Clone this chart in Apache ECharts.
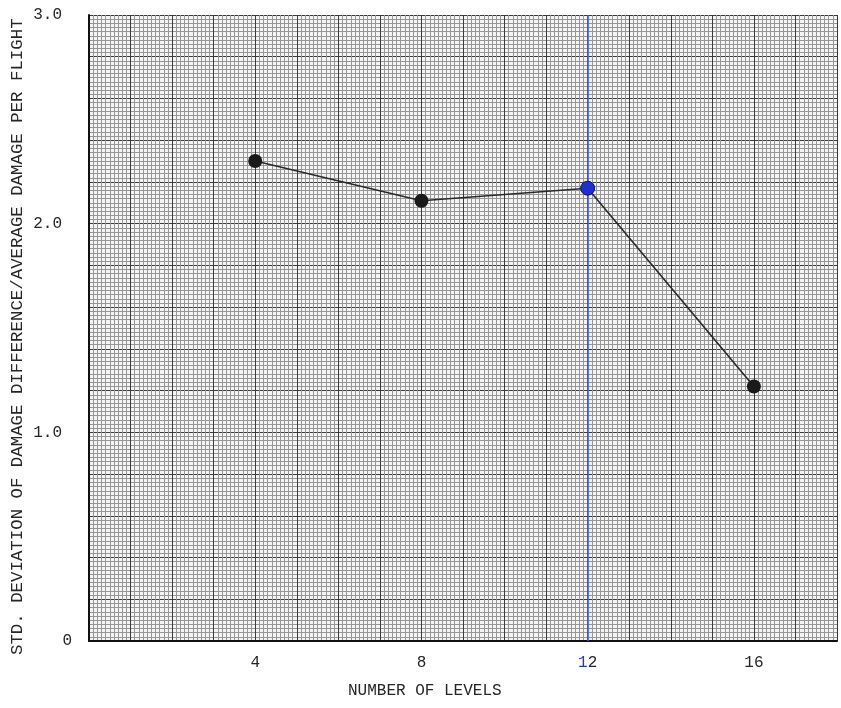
<!DOCTYPE html>
<html>
<head>
<meta charset="utf-8">
<script src="https://cdn.jsdelivr.net/npm/echarts@6/dist/echarts.min.js"></script>
<style>
  html, body { margin: 0; padding: 0; background: #ffffff; }
  #myChart { width: 841px; height: 708px; }
</style>
</head>
<body>
<div id="myChart"></div>
<script>
// number of levels vs. normalised std. deviation
let levels = [4, 8, 12, 16];
let stdDev = [2.30, 2.11, 2.17, 1.22];
let xTickLabels = [4, 8, 12, 16];
let yTickLabels = [0, 1, 2, 3];
let highlightLevel = 12;

let mono = '"Liberation Mono", "DejaVu Sans Mono", monospace';
let ink = '#262626';

let chart = echarts.init(document.getElementById('myChart'));

let points = levels.map(function (x, i) {
  let p = { value: [x, stdDev[i]] };
  if (x === highlightLevel) {
    p.itemStyle = { color: '#1c2fd0', borderColor: '#101860', borderWidth: 1 };
  }
  return p;
});

let options = {
  backgroundColor: '#ffffff',
  animation: false,
  grid: {
    left: 89,
    right: 4,
    top: 15,
    bottom: 67,
    show: true,
    backgroundColor: '#f4f4f4',
    borderWidth: 0
  },
  graphic: [
    {
      type: 'text',
      left: 348,
      top: 683,
      style: { text: 'NUMBER OF LEVELS', font: '16px ' + mono, fill: ink }
    },
    {
      type: 'text',
      x: 26,
      y: 655,
      rotation: Math.PI / 2,
      style: {
        text: 'STD. DEVIATION OF DAMAGE DIFFERENCE/AVERAGE DAMAGE PER FLIGHT',
        font: '17.4px ' + mono,
        fill: ink,
        align: 'left',
        verticalAlign: 'bottom'
      }
    }
  ],
  xAxis: {
    type: 'value',
    min: 0,
    max: 18,
    interval: 1,
    axisLine: { show: true, onZero: false, lineStyle: { color: '#111', width: 2 } },
    axisTick: { show: false },
    axisLabel: {
      margin: 14,
      fontFamily: mono,
      fontSize: 16,
      color: ink,
      formatter: function (v) {
        if (xTickLabels.indexOf(v) < 0) return '';
        if (v === highlightLevel) return '{b|1}{k|2}';
        return String(v);
      },
      rich: {
        b: { color: '#2436d8', fontFamily: mono, fontSize: 16 },
        k: { color: ink, fontFamily: mono, fontSize: 16 }
      }
    },
    splitLine: { show: true, lineStyle: { color: '#3a3a3a', width: 1 } },
    minorTick: { show: false, splitNumber: 10 },
    minorSplitLine: { show: true, lineStyle: { color: '#969696', width: 1 } }
  },
  yAxis: {
    type: 'value',
    min: 0,
    max: 3,
    interval: 0.2,
    axisLine: { show: true, lineStyle: { color: '#111', width: 2 } },
    axisTick: { show: false },
    axisLabel: {
      margin: 17,
      fontFamily: mono,
      fontSize: 16,
      color: ink,
      formatter: function (v) {
        let r = Math.round(v);
        if (Math.abs(v - r) > 1e-6 || yTickLabels.indexOf(r) < 0) return '';
        if (r === 0) return '0';
        return '{a|' + r.toFixed(1) + '}';
      },
      rich: {
        a: { fontFamily: mono, fontSize: 16, color: ink, padding: [0, 10, 0, 0] }
      }
    },
    splitLine: { show: true, lineStyle: { color: '#3a3a3a', width: 1 } },
    minorTick: { show: false, splitNumber: 10 },
    minorSplitLine: { show: true, lineStyle: { color: '#969696', width: 1 } }
  },
  series: [
    {
      type: 'line',
      data: points,
      symbol: 'circle',
      symbolSize: 14,
      itemStyle: { color: '#1a1a1a' },
      lineStyle: { color: '#2a2a2a', width: 1.6 },
      z: 5,
      markLine: {
        silent: true,
        symbol: 'none',
        label: { show: false },
        lineStyle: { color: '#3a5cff', width: 1.6, type: 'solid' },
        data: [{ xAxis: highlightLevel }]
      }
    }
  ]
};

chart.setOption(options);
</script>
</body>
</html>
